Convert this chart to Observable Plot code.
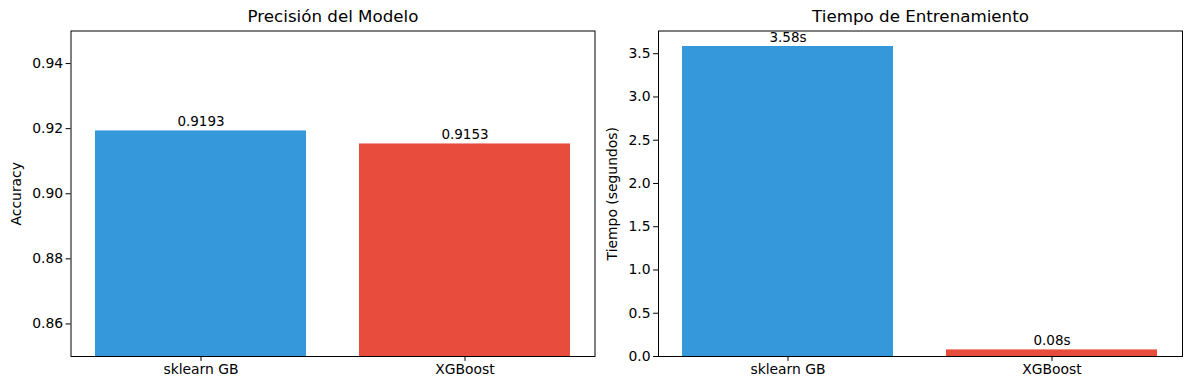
<!DOCTYPE html>
<html>
<head>
<meta charset="utf-8">
<script src="https://cdn.jsdelivr.net/npm/d3@7"></script>
<script src="https://cdn.jsdelivr.net/npm/@observablehq/plot@0.6"></script>
<style>
  html, body { margin: 0; padding: 0; background: #fff; }
  #wrap { position: relative; width: 1189px; height: 390px; font-family: "DejaVu Sans", sans-serif; }
  #wrap > div { position: absolute; top: 0; }
</style>
</head>
<body>
<div id="wrap"><div id="left"></div><div id="right"></div></div>
<script>
const models = ["sklearn GB", "XGBoost"];
const accuracy = [0.9193, 0.9153];
const trainTime = [3.5832, 0.0762];
const barColors = ["#3498db", "#e74c3c"];
const accTicks = [0.86, 0.88, 0.90, 0.92, 0.94];
const timeTicks = [0, 0.5, 1.0, 1.5, 2.0, 2.5, 3.0, 3.5];

const accData = models.map((m, i) => ({model: m, value: accuracy[i], color: barColors[i]}));
const timeData = models.map((m, i) => ({model: m, value: trainTime[i], color: barColors[i]}));

const common = {
  height: 390,
  marginTop: 30.5,
  marginBottom: 34,
  style: {fontFamily: "DejaVu Sans, sans-serif", fontSize: "13.9px", color: "black", background: "white"},
};

function panel({width, marginLeft, marginRight, data, yDomain, ticks, fmt, yLabel, labelOffset, title, labelFmt, yBase}) {
  return Plot.plot({
    ...common,
    width, marginLeft, marginRight,
    x: {domain: models, paddingInner: 0.2, paddingOuter: 0.09, align: 0.5},
    y: {domain: yDomain},
    marks: [
      Plot.barY(data, {x: "model", y1: yBase, y2: "value", fill: "color", clip: true}),
      Plot.text(data, {x: "model", y: "value", text: d => labelFmt(d.value), lineAnchor: "bottom", dy: -5, fontSize: 13.5, fill: "black"}),
      Plot.frame({stroke: "black", strokeWidth: 1}),
      Plot.axisX({tickSize: 4.9, tickPadding: 3, label: null, fontSize: 13.9, stroke: "black"}),
      Plot.axisY({ticks, tickFormat: fmt, tickSize: 4.9, tickPadding: 3, label: yLabel, labelAnchor: "center", labelArrow: "none", labelOffset, fontSize: 13.9}),
      Plot.text([title], {frameAnchor: "top", dy: -9, lineAnchor: "bottom", fontSize: 16.7, fill: "black"})
    ]
  });
}

document.getElementById("left").appendChild(panel({
  width: 600, marginLeft: 70.5, marginRight: 5.5,
  data: accData, yDomain: [0.85, 0.95], ticks: accTicks, fmt: d3.format(".2f"),
  yLabel: "Accuracy", labelOffset: 60, title: "Precisión del Modelo",
  labelFmt: v => v.toFixed(4), yBase: 0.85
}));
const r = document.getElementById("right");
r.style.left = "600px";
r.appendChild(panel({
  width: 589, marginLeft: 58, marginRight: 7,
  data: timeData, yDomain: [0, 3.7624], ticks: timeTicks, fmt: d3.format(".1f"),
  yLabel: "Tiempo (segundos)", labelOffset: 51, title: "Tiempo de Entrenamiento",
  labelFmt: v => v.toFixed(2) + "s", yBase: 0
}));
</script>
</body>
</html>
